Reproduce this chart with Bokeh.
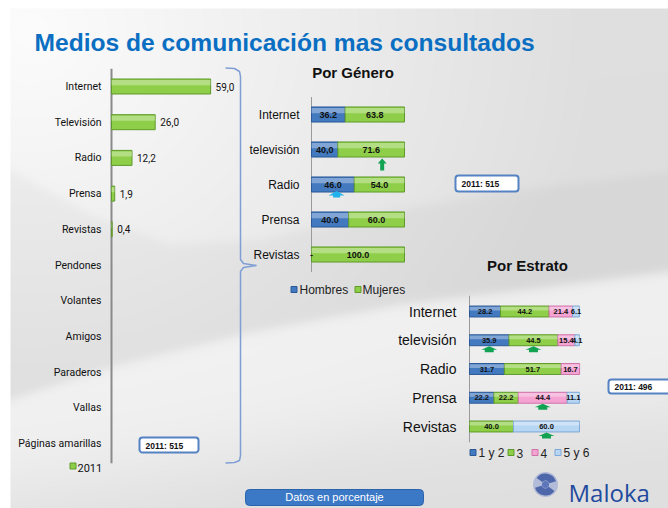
import numpy as np
from bokeh.plotting import figure
from bokeh.models import Range1d
from bokeh.core.properties import value
from bokeh.embed import file_html
from bokeh.resources import INLINE

# ---------------- data ----------------
TITLE = "Medios de comunicación mas consultados"

medios = ["Internet", "Televisión", "Radio", "Prensa", "Revistas", "Pendones",
          "Volantes", "Amigos", "Paraderos", "Vallas", "Páginas amarillas"]
total_2011 = [59.0, 26.0, 12.2, 1.9, 0.4]          # only the first five carry values
serie_total = "2011"

genero_title = "Por Género"
genero_cats = ["Internet", "televisión", "Radio", "Prensa", "Revistas"]
genero_series = ["Hombres", "Mujeres"]
hombres = [36.2, 28.4, 46.0, 40.0, 0.0]
mujeres = [63.8, 71.6, 54.0, 60.0, 100.0]
hombres_labels = ["36.2", "40,0", "46.0", "40.0", "-"]
mujeres_labels = ["63.8", "71.6", "54.0", "60.0", "100.0"]
genero_arrows_cat = ["televisión", "Radio"]
genero_arrows_x = [76.0, 27.0]
genero_arrows_kind = ["tall", "flat"]

estrato_title = "Por Estrato"
estrato_cats = ["Internet", "televisión", "Radio", "Prensa", "Revistas"]
estrato_series = ["1 y 2", "3", "4", "5 y 6"]
estrato_1y2 = [28.2, 35.9, 31.7, 22.2, 0.0]
estrato_3 = [44.2, 44.5, 51.7, 22.2, 40.0]
estrato_4 = [21.4, 15.4, 16.7, 44.4, 0.0]
estrato_5y6 = [6.1, 4.1, 0.0, 11.1, 60.0]
estrato_arrows = [("televisión", "1 y 2"), ("televisión", "3"), ("Prensa", "4"), ("Revistas", "5 y 6")]

muestra_total = "2011: 515"
muestra_genero = "2011: 515"
muestra_estrato = "2011: 496"
nota = "Datos en porcentaje"
marca = "Maloka"

# ---------------- styles / layout ----------------
SANS = value("Liberation Sans")
NARROW = value("Roboto")
GREEN, GREEN_D = "#8fce48", "#5e9a2a"
BLUE, BLUE_D = "#437abf", "#2a5896"
PINK, PINK_D = "#f4a3d3", "#cf72aa"
LBLUE, LBLUE_D = "#b7d6f3", "#7ea8d6"
ARROW_G, ARROW_C = "#12a352", "#1fb2ec"
BOX_LINE = "#5482c2"

FX0, FX1, FY0, FY1 = 0, 668, 0, 508
T = dict(px0=111.0, k=1.68, c0=86.0, sp=35.7, h=0.42)
G = dict(px0=311.0, k=0.93, c0=114.0, sp=35.0, h=0.43)
E = dict(px0=469.0, k=1.10, c0=311.0, sp=28.75, h=0.38)


def xr(c):
    return Range1d(start=(FX0 - c["px0"]) / c["k"], end=(FX1 - c["px0"]) / c["k"])


def yr(c):
    return Range1d(start=(FY1 - c["c0"]) / c["sp"], end=(FY0 - c["c0"]) / c["sp"])


p = figure(width=FX1 - FX0, height=FY1 - FY0,
           x_range=Range1d(FX0, FX1), y_range=Range1d(FY1, FY0),
           x_axis_location=None, y_axis_location=None,
           output_backend="svg", toolbar_location=None, min_border=0)
p.grid.visible = False
p.outline_line_color = None
p.background_fill_color = "white"
p.border_fill_color = "white"
p.extra_x_ranges = {"tx": xr(T), "gx": xr(G), "ex": xr(E)}
p.extra_y_ranges = {"ty": yr(T), "gy": yr(G), "ey": yr(E), "bg": Range1d(0, FY1 - FY0)}

# ---------------- background ----------------
W, H = FX1 - FX0, FY1 - FY0
X, Y = np.meshgrid(np.arange(W) + FX0 + 0.5, np.arange(H) + FY0 + 0.5)


def edge(t, w):
    return 1.0 / (1.0 + np.exp(-t / w))


L = 223 + 29 * np.clip(1 - np.hypot(X - 30, (Y - 30) * 1.1) / 560, 0, 1)
yA = np.interp(X, [10, 90, 170, 260, 380, 520, 668], [170, 215, 245, 240, 212, 190, 172])
yB = np.interp(X, [10, 120, 250, 400, 550, 668], [400, 365, 333, 305, 287, 272])
yC = np.interp(X, [10, 250, 450, 668], [485, 450, 425, 410])
band = edge(Y - yA, 3) * (1 - edge(Y - yB, 3))
L = L - 8 * band
sw = edge(Y - yB, 3) * (1 - edge(Y - yC, 25))
L = L * (1 - 0.8 * sw) + 244 * 0.8 * sw
L = np.clip(L, 0, 255)
L[(X < 10) | (Y < 8)] = 255
img = np.empty((H, W), dtype=np.uint32)
v = img.view(dtype=np.uint8).reshape((H, W, 4))
v[..., 0] = L.astype(np.uint8)
v[..., 1] = L.astype(np.uint8)
v[..., 2] = L.astype(np.uint8)
v[..., 3] = 255
img = np.ascontiguousarray(img[::-1])
p.image_rgba(image=[img], x=FX0, y=0, dw=W, dh=H, y_range_name="bg")

# ---------------- title ----------------
p.text(x=[34], y=[42], text=[TITLE], text_font=SANS, text_font_style="bold",
       text_font_size="24.6px", text_color="#0a6fc2", text_baseline="alphabetic")


def fmt_comma(x):
    return f"{x:.1f}".replace(".", ",")


def bars(xname, yname, c, ys, lefts, rights, fill, line):
    h = c["h"]
    p.hbar(y=ys, left=lefts, right=rights, height=h, fill_color=fill, line_color=line,
           line_width=1, x_range_name=xname, y_range_name=yname)
    p.hbar(y=[y - h / 2 + h * 0.24 for y in ys], left=lefts, right=rights, height=h * 0.34,
           fill_color="white", fill_alpha=0.33, line_color=None,
           x_range_name=xname, y_range_name=yname)


# ---------------- chart 1: total 2011 ----------------
n = len(medios)
p.segment(x0=[0], y0=[-0.5], x1=[0], y1=[n - 0.45], line_color="#8a8a8a", line_width=2,
          x_range_name="tx", y_range_name="ty")
p.text(x=[0] * n, y=list(range(n)), text=medios, x_offset=-10, text_align="right",
       text_baseline="middle", text_font=NARROW, text_font_size="10.5px", text_color="#111111",
       x_range_name="tx", y_range_name="ty")
ti = list(range(len(total_2011)))
bars("tx", "ty", T, ti, [0] * len(ti), total_2011, GREEN, GREEN_D)
p.text(x=total_2011, y=ti, text=[fmt_comma(t) for t in total_2011], x_offset=5,
       text_baseline="middle", text_font=NARROW, text_font_size="10px", text_color="#111111",
       x_range_name="tx", y_range_name="ty")

# legend "2011"
p.scatter(x=[72.5], y=[465.5], marker="square", size=6, fill_color=GREEN, line_color=GREEN_D)
p.text(x=[77], y=[467], text=[serie_total], text_baseline="middle", text_font=NARROW,
       text_font_size="11px", text_color="#111111")


def sample_box(l, r, t, b, label):
    p.quad(left=[l], right=[r], top=[t], bottom=[b], fill_color="white", line_color=BOX_LINE,
           line_width=2, border_radius=3)
    p.text(x=[l + 6], y=[(t + b) / 2 + 0.5], text=[label], text_baseline="middle", text_font=SANS,
           text_font_style="bold", text_font_size="8.5px", text_color="#111111")


sample_box(139, 198, 437, 452, muestra_total)

# brace
p.line(x=[225, 234, 239, 240, 240, 243, 256, 243, 240, 240, 239, 234, 225],
       y=[67.5, 68, 71, 76, 259, 263, 265, 267, 271, 455, 460, 462, 462.5],
       line_color="#7f9fd4", line_width=1.5)

# ---------------- chart 2: por género ----------------
ng = len(genero_cats)
gi = list(range(ng))
p.text(x=[352.5], y=[80], text=[genero_title], text_align="center",
       text_font=SANS, text_font_style="bold", text_font_size="15px", text_color="#111111")
p.segment(x0=[0], y0=[-0.5], x1=[0], y1=[ng - 0.5], line_color="#9a9a9a", line_width=1,
          x_range_name="gx", y_range_name="gy")
p.text(x=[0] * ng, y=gi, text=genero_cats, x_offset=-12, text_align="right",
       text_baseline="middle", text_font=SANS, text_font_size="12px", text_color="#111111",
       x_range_name="gx", y_range_name="gy")
hi = [i for i in gi if hombres[i] > 0]
bars("gx", "gy", G, hi, [0] * len(hi), [hombres[i] for i in hi], BLUE, BLUE_D)
bars("gx", "gy", G, gi, hombres, [a + b for a, b in zip(hombres, mujeres)], GREEN, GREEN_D)
p.text(x=[a / 2 for a in hombres] + [a + b / 2 for a, b in zip(hombres, mujeres)],
       y=gi + gi, text=hombres_labels + mujeres_labels, text_align="center",
       text_baseline="middle", text_font=SANS, text_font_style="bold", text_font_size="9px",
       text_color="#111111", x_range_name="gx", y_range_name="gy")


def arrow(cx, top, hw, hh, sww, swh):
    xs = [cx, cx + hw / 2, cx + sww / 2, cx + sww / 2, cx - sww / 2, cx - sww / 2, cx - hw / 2]
    ys = [top, top + hh, top + hh, top + hh + swh, top + hh + swh, top + hh, top + hh]
    return xs, ys


axs, ays, acol = [], [], []
for cat, xv, kind in zip(genero_arrows_cat, genero_arrows_x, genero_arrows_kind):
    i = genero_cats.index(cat)
    bottom = G["c0"] + i * G["sp"] + G["h"] * G["sp"] / 2
    cx = G["px0"] + xv * G["k"]
    if kind == "tall":
        xs, ys = arrow(cx, bottom + 1.5, 9, 5, 4, 7)
        acol.append(ARROW_G)
    else:
        xs, ys = arrow(cx, bottom - 1.0, 16, 4.5, 7, 2)
        acol.append(ARROW_C)
    axs.append(xs)
    ays.append(ys)

# legend género
p.scatter(x=[293.5, 357.5], y=[289, 289], marker="square", size=6,
          fill_color=[BLUE, GREEN], line_color=[BLUE_D, GREEN_D])
p.text(x=[299, 362], y=[289.5, 289.5], text=genero_series, text_baseline="middle",
       text_font=SANS, text_font_size="12px", text_color="#222222")
sample_box(455, 518, 175, 191, muestra_genero)

# ---------------- chart 3: por estrato ----------------
ne = len(estrato_cats)
ei = list(range(ne))
p.text(x=[527], y=[273], text=[estrato_title], text_align="center", text_font=SANS,
       text_font_style="bold", text_font_size="15px", text_color="#111111")
p.segment(x0=[0], y0=[-0.55], x1=[0], y1=[ne - 0.45], line_color="#9a9a9a", line_width=1,
          x_range_name="ex", y_range_name="ey")
p.text(x=[0] * ne, y=ei, text=estrato_cats, x_offset=-13, text_align="right",
       text_baseline="middle", text_font=SANS, text_font_size="14px", text_color="#111111",
       x_range_name="ex", y_range_name="ey")
e_vals = [estrato_1y2, estrato_3, estrato_4, estrato_5y6]
e_cols = [(BLUE, BLUE_D), (GREEN, GREEN_D), (PINK, PINK_D), (LBLUE, LBLUE_D)]
cum = [0.0] * ne
centers = {}
lab_x, lab_y, lab_t = [], [], []
for name, vals, (fc, lc) in zip(estrato_series, e_vals, e_cols):
    idx = [i for i in ei if vals[i] > 0]
    bars("ex", "ey", E, idx, [cum[i] for i in idx], [cum[i] + vals[i] for i in idx], fc, lc)
    for i in idx:
        centers[(estrato_cats[i], name)] = cum[i] + vals[i] / 2
        lab_x.append(cum[i] + vals[i] / 2)
        lab_y.append(i)
        lab_t.append(f"{vals[i]:.1f}")
    cum = [cum[i] + vals[i] for i in ei]
p.text(x=lab_x, y=lab_y, text=lab_t, text_align="center", text_baseline="middle",
       text_font=SANS, text_font_style="bold", text_font_size="7.5px", text_color="#111111",
       x_range_name="ex", y_range_name="ey")
for cat, ser in estrato_arrows:
    i = estrato_cats.index(cat)
    bottom = E["c0"] + i * E["sp"] + E["h"] * E["sp"] / 2
    cx = E["px0"] + centers[(cat, ser)] * E["k"]
    xs, ys = arrow(cx, bottom + 0.5, 16, 3.5, 9, 2.5)
    axs.append(xs)
    ays.append(ys)
    acol.append(ARROW_G)
p.patches(xs=axs, ys=ays, fill_color=acol, line_color=None)

# legend estrato
p.scatter(x=[472.5, 510.5, 534.5, 557.5], y=[452] * 4, marker="square", size=6,
          fill_color=[c[0] for c in e_cols], line_color=[c[1] for c in e_cols])
p.text(x=[478, 516, 540, 563], y=[452.5] * 4, text=estrato_series, text_baseline="middle",
       text_font=SANS, text_font_size="12px", text_color="#222222")
sample_box(608, 671, 379, 393, muestra_estrato)

# ---------------- footer ----------------
p.quad(left=[245], right=[423], top=[489], bottom=[505], fill_color="#3b78c6",
       line_color="#2b63ad", line_width=1, border_radius=4)
p.text(x=[334], y=[496.5], text=[nota], text_align="center", text_baseline="middle",
       text_font=SANS, text_font_size="11px", text_color="white")

# logo
p.circle(x=[545], y=[484], radius=12.5, fill_color="#7a8ecb", fill_alpha=0.45, line_color=None)
p.annular_wedge(x=[545, 545], y=[484, 484], inner_radius=4, outer_radius=11,
                start_angle=[0.3, 3.45], end_angle=[2.5, 5.65], fill_color="#34529f",
                fill_alpha=0.8, line_color=None)
p.circle(x=[545], y=[484], radius=3.5, fill_color="#5d75bb", line_color=None)
p.text(x=[568], y=[492], text=[marca], text_baseline="alphabetic", text_font=value("Open Sans"),
       text_font_size="24px", text_color="#1f4b9e")

open("out.html", "w").write(file_html(p, INLINE))
